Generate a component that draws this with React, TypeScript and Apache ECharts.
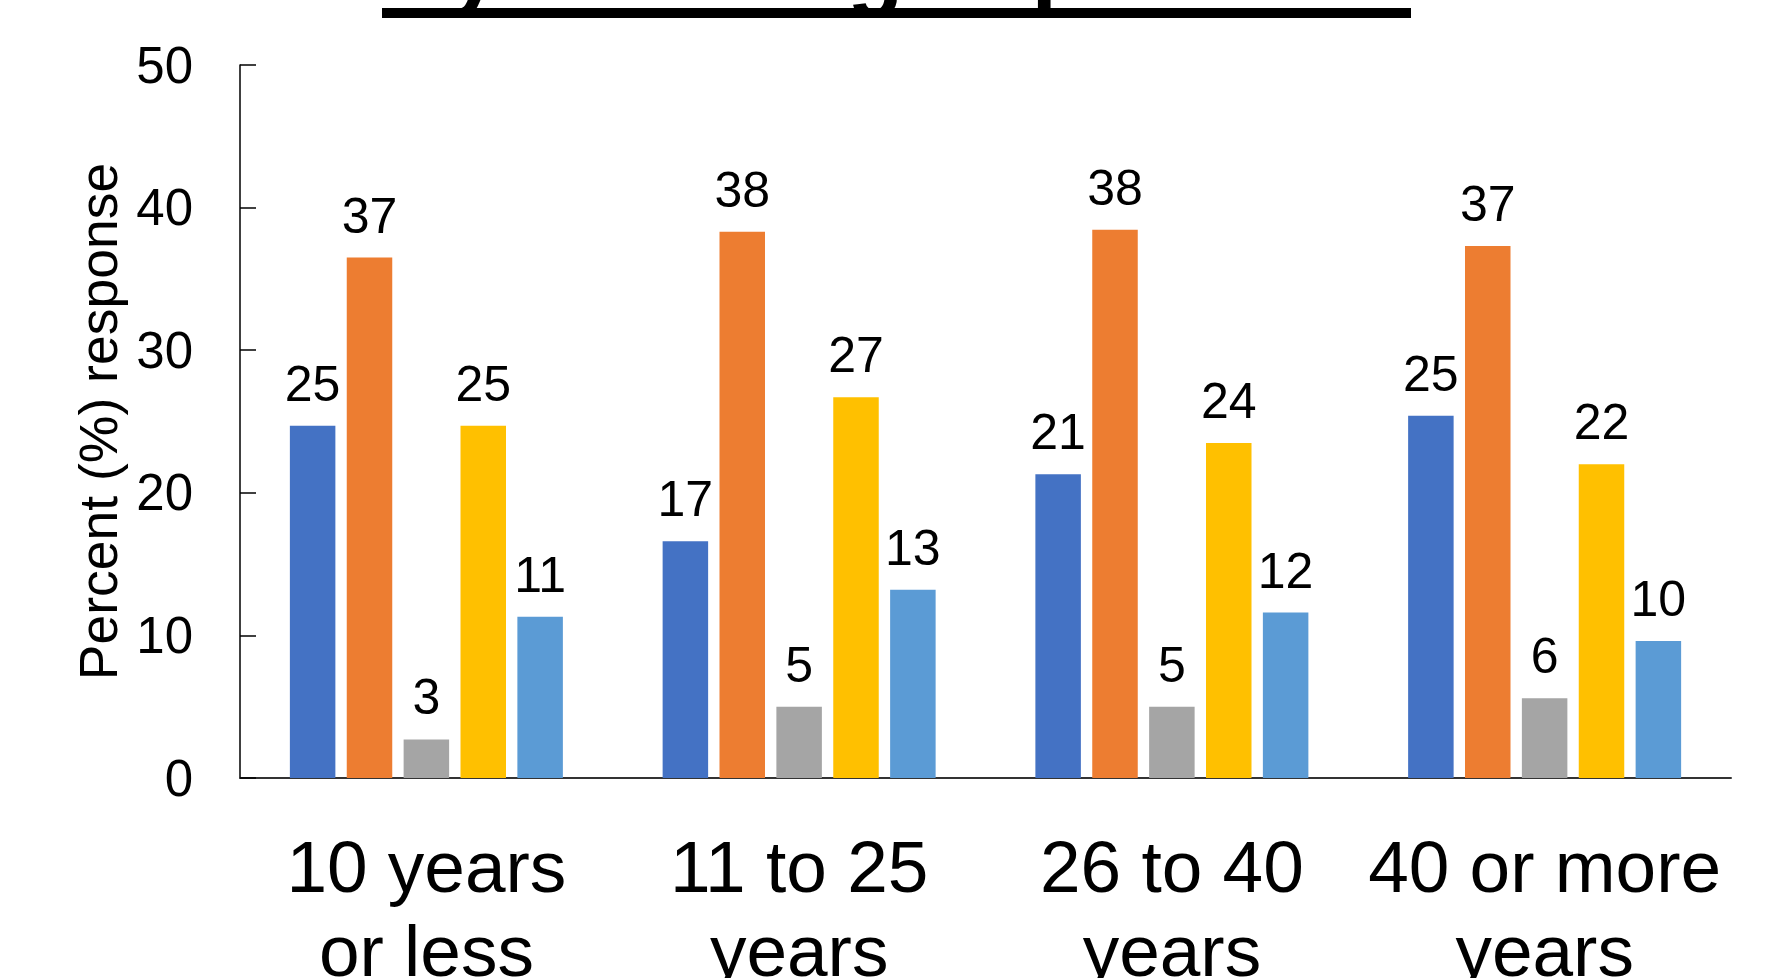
import React, { useEffect, useRef } from "react";
import * as echarts from "echarts";

const titleText = "By teaching experience";
const yAxisName = "Percent (%) response";
const categories = ["10 years\nor less", "11 to 25\nyears", "26 to 40\nyears", "40 or more\nyears"];
const seriesNames = ["Series 1", "Series 2", "Series 3", "Series 4", "Series 5"];
const seriesColors = ["#4472C4", "#ED7D31", "#A5A5A5", "#FFC000", "#5B9BD5"];

const series1 = [24.7, 16.6, 21.3, 25.4];
const series2 = [36.5, 38.3, 38.45, 37.3];
const series3 = [2.7, 5.0, 5.0, 5.6];
const series4 = [24.7, 26.7, 23.5, 22.0];
const series5 = [11.3, 13.2, 11.6, 9.6];

const yMin = 0;
const yMax = 50;
const yInterval = 10;

const FONT = '"Liberation Sans", Arial, Helvetica, sans-serif';

export default function App() {
  const ref = useRef<HTMLDivElement>(null);

  useEffect(() => {
    const chart = echarts.init(ref.current as HTMLDivElement, null, { renderer: "svg" });
    const allValues = [series1, series2, series3, series4, series5];
    chart.setOption({
      animation: false,
      backgroundColor: "#ffffff",
      textStyle: { fontFamily: FONT },
      grid: { left: 240, right: 52, top: 65, bottom: 200, containLabel: false, outerBoundsMode: "none" },
      xAxis: {
        type: "category",
        data: categories,
        axisLine: { show: true, lineStyle: { color: "#333333", width: 2 } },
        axisTick: { show: false },
        axisLabel: {
          interval: 0,
          fontSize: 73,
          lineHeight: 84,
          color: "#000000",
          fontFamily: FONT,
          margin: 46,
        },
      },
      yAxis: {
        type: "value",
        min: yMin,
        max: yMax,
        interval: yInterval,
        name: yAxisName,
        nameLocation: "middle",
        nameRotate: 90,
        nameGap: 114,
        nameTextStyle: { fontSize: 53.5, color: "#000000", fontFamily: FONT },
        axisLine: { show: true, lineStyle: { color: "#000000", width: 1.5 } },
        axisTick: { show: true, inside: true, length: 16, lineStyle: { color: "#000000", width: 1.5 } },
        splitLine: { show: false },
        axisLabel: { fontSize: 51, color: "#000000", fontFamily: FONT, margin: 47 },
      },
      series: seriesNames.map((name, i) => ({
        name,
        type: "bar",
        data: allValues[i],
        barWidth: 45.5,
        barGap: "25%",
        itemStyle: { color: seriesColors[i] },
        label: {
          show: true,
          position: "top",
          distance: 16,
          fontSize: 50,
          lineHeight: 52,
          color: "#000000",
          fontFamily: FONT,
          formatter: (p: any) => String(Math.round(p.value)),
        },
      })),
      graphic: [
        {
          type: "text",
          x: 896,
          y: -33,
          style: {
            text: titleText,
            fontSize: 92,
            fontWeight: "bold",
            fontFamily: FONT,
            fill: "#000000",
            align: "center",
            verticalAlign: "middle",
          },
        },
        {
          type: "rect",
          shape: { x: 382, y: 8, width: 1029, height: 10 },
          style: { fill: "#000000" },
        },
      ],
    });
    return () => chart.dispose();
  }, []);

  return (
    <div
      ref={ref}
      style={{ position: "fixed", left: 0, top: 0, width: 1783, height: 978, background: "#ffffff" }}
    />
  );
}
